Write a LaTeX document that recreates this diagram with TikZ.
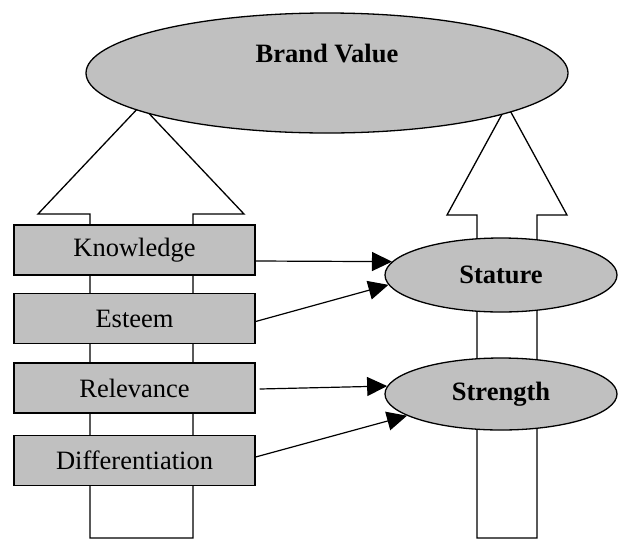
\documentclass[tikz,border=0pt]{standalone}
\usepackage{fontspec}
\setmainfont{Liberation Serif}
\usetikzlibrary{shapes.geometric, arrows.meta, positioning}
\definecolor{boxgray}{RGB}{192,192,192}

\begin{document}
\begin{tikzpicture}[x=1pt,y=-1pt,
    blockarrow/.style={draw=black,fill=white,line width=1.3pt,line join=miter},
    factor/.style={draw=black,fill=boxgray,line width=1.3pt,minimum width=241pt,minimum height=50pt,inner sep=0pt,font=\fontsize{26.5}{30}\selectfont},
    pillar/.style={ellipse,draw=black,fill=boxgray,line width=1.3pt,inner sep=0pt,font=\bfseries\fontsize{26.5}{30}\selectfont},
    conn/.style={-{Triangle[length=20pt,width=19pt]},line width=1.2pt}]
  \useasboundingbox (0,0) rectangle (618,539);
  % the two big hollow arrows
  \draw[blockarrow] (90,538) -- (90,214) -- (38,214) -- (141,105) -- (244,214) -- (193,214) -- (193,538) -- cycle;
  \draw[blockarrow] (477,538) -- (477,215) -- (447,215) -- (507,105) -- (567,215) -- (537,215) -- (537,538) -- cycle;
  % top ellipse
  \node[pillar,minimum width=482pt,minimum height=120pt] (value) at (327,73) {};
  \node[font=\bfseries\fontsize{26.5}{30}\selectfont] (valuetext) at (327,54) {Brand Value};
  % the four factors
  \node[factor] (know) at (134.5,250) {Knowledge};
  \node[factor] (esteem) at (134.5,318.5) {Esteem};
  \node[factor] (relev) at (134.5,388) {Relevance};
  \node[factor] (diff) at (134.5,460.5) {Differentiation};
  % the two pillars
  \node[pillar,minimum width=232pt,minimum height=74pt] (stature) at (501,275) {Stature};
  \node[pillar,minimum width=232pt,minimum height=72pt] (strength) at (501,394) {Strength};
  \draw[conn] ([yshift=-11pt]know.east) -- (stature.173);
  \draw[conn] ([yshift=-3pt]esteem.east) -- (stature.185);
  \draw[conn] ([xshift=4pt,yshift=-1pt]relev.east) -- (strength.176);
  \draw[conn] ([yshift=3.5pt]diff.east) -- (strength.193);
\end{tikzpicture}
\end{document}
